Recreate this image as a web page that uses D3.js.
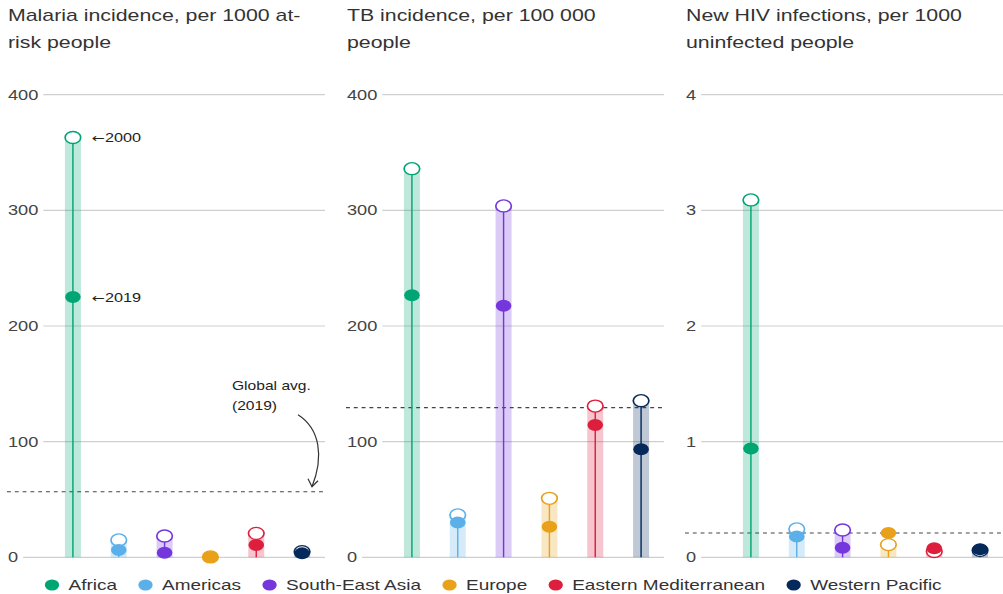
<!DOCTYPE html>
<html>
<head>
<meta charset="utf-8">
<script src="https://cdn.jsdelivr.net/npm/d3@7"></script>
<style>
  html, body { margin: 0; padding: 0; background: #fff; }
  svg { display: block; font-family: "Liberation Sans", Arial, sans-serif; }
</style>
</head>
<body>
<svg id="chart" width="1003" height="594"></svg>
<script>
// ---------------- DATA ----------------
const regions = ["Africa", "Americas", "South-East Asia", "Europe", "Eastern Mediterranean", "Western Pacific"];
const regionColors = ["#00a574", "#5cb0e9", "#7536dc", "#e9a11a", "#dd1f3d", "#06295b"];

const panelTitles = [
  ["Malaria incidence, per 1000 at-", "risk people"],
  ["TB incidence, per 100 000", "people"],
  ["New HIV infections, per 1000", "uninfected people"]
];

const malaria2000 = [363, 15, 18.4, 0.3, 20.7, 4.9];
const malaria2019 = [225, 6.3, 4, 0.2, 10.6, 3.4];
const tb2000 = [336, 36.6, 303.8, 51, 130.8, 135.4];
const tb2019 = [226.5, 30, 217.6, 26.5, 114.4, 93.4];
const hiv2000 = [3.09, 0.245, 0.236, 0.11, 0.05, 0.06];
const hiv2019 = [0.94, 0.18, 0.083, 0.21, 0.078, 0.07];

const globalAvg2019 = [56.7, 129.4, 0.21];
const yMax = [400, 400, 4];
const malariaTicks = [0, 100, 200, 300, 400];
const tbTicks = [0, 100, 200, 300, 400];
const hivTicks = [0, 1, 2, 3, 4];

const panels = [
  { title: panelTitles[0], v2000: malaria2000, v2019: malaria2019, avg: globalAvg2019[0], max: yMax[0], ticks: malariaTicks },
  { title: panelTitles[1], v2000: tb2000, v2019: tb2019, avg: globalAvg2019[1], max: yMax[1], ticks: tbTicks },
  { title: panelTitles[2], v2000: hiv2000, v2019: hiv2019, avg: globalAvg2019[2], max: yMax[2], ticks: hivTicks }
];

// ---------------- LAYOUT ----------------
const W = 1003, H = 594;
const SX = 1.3;                 // horizontal stretch of the whole drawing
const panelLeft = [7, 346, 685]; // real px
const panelW = 318;
const yTop = 94.7, yBottom = 557.3;

const svg = d3.select("#chart");
const g = svg.append("g").attr("transform", `scale(${SX},1)`);
const overlay = svg.append("g"); // unscaled overlay

const color = d3.scaleOrdinal().domain(regions).range(regionColors);

panels.forEach((p, pi) => {
  const L = panelLeft[pi];
  const x = d3.scaleBand().domain(regions).range([(L + 43) / SX, (L + panelW) / SX]);
  const y = d3.scaleLinear().domain([0, p.max]).range([yBottom, yTop]);
  const right = (L + panelW) / SX;
  const pg = g.append("g");
  const gridG = pg.append("g");

  // title
  p.title.forEach((line, i) => {
    pg.append("text")
      .attr("x", (L + 1) / SX).attr("y", 21 + i * 27)
      .attr("fill", "#333").attr("font-size", 16.4)
      .text(line);
  });

  // ticks + gridlines
  p.ticks.forEach(v => {
    const lab = pg.append("text")
      .attr("x", (L + 1) / SX).attr("y", y(v)).attr("dy", "0.36em")
      .attr("fill", "#444").attr("font-size", 14)
      .text(d3.format("d")(v));
    const tw = lab.node().getComputedTextLength();
    gridG.append("line")
      .attr("x1", (L + 1) / SX + tw + 5 / SX).attr("x2", right)
      .attr("y1", y(v)).attr("y2", y(v))
      .attr("stroke", "#cfcfcf").attr("stroke-width", 1.2);
  });

  const bw = 16 / SX;
  const cx = r => x(r) + x.bandwidth() / 2;

  // bars
  pg.selectAll("rect.bar").data(regions).join("rect")
    .attr("class", "bar")
    .attr("x", r => cx(r) - bw / 2)
    .attr("width", bw)
    .attr("y", (r, i) => y(p.v2000[i]))
    .attr("height", (r, i) => y(0) - y(p.v2000[i]))
    .attr("fill", r => color(r)).attr("fill-opacity", 0.26);

  // global average dashed line
  pg.append("line")
    .attr("x1", L / SX).attr("x2", right)
    .attr("y1", y(p.avg)).attr("y2", y(p.avg))
    .attr("stroke", "#444").attr("stroke-width", 1.1)
    .attr("stroke-dasharray", "3,3");

  // stems
  pg.selectAll("line.stem").data(regions).join("line")
    .attr("class", "stem")
    .attr("x1", cx).attr("x2", cx)
    .attr("y1", y(0)).attr("y2", (r, i) => y(p.v2000[i]))
    .attr("stroke", r => color(r)).attr("stroke-width", 1.1);

  // 2000 open circles
  pg.selectAll("circle.c2000").data(regions).join("circle")
    .attr("class", "c2000")
    .attr("cx", cx).attr("cy", (r, i) => y(p.v2000[i]))
    .attr("r", 6)
    .attr("fill", "#fff").attr("stroke", r => color(r)).attr("stroke-width", 1.3);

  // 2019 filled circles
  pg.selectAll("circle.c2019").data(regions).join("circle")
    .attr("class", "c2019")
    .attr("cx", cx).attr("cy", (r, i) => y(p.v2019[i]))
    .attr("r", 6)
    .attr("fill", r => color(r));

  if (pi === 0) {
    const ax = cx(regions[0]) + 19 / SX;
    [["2000", p.v2000[0]], ["2019", p.v2019[0]]].forEach(([lbl, v]) => {
      const t = pg.append("text").attr("x", ax).attr("y", y(v)).attr("dy", "0.36em")
        .attr("font-size", 12.5).attr("fill", "#222");
      t.append("tspan").attr("font-family", "DejaVu Sans").attr("font-size", 12).text("\u2190");
      t.append("tspan").text(lbl);
    });

    const ya = y(p.avg);
    pg.append("text").attr("x", (L + 225) / SX).attr("y", ya - 106).attr("dy", "0.36em")
      .attr("font-size", 12).attr("fill", "#222").text("Global avg.");
    pg.append("text").attr("x", (L + 225) / SX).attr("y", ya - 86).attr("dy", "0.36em")
      .attr("font-size", 12).attr("fill", "#222").text("(2019)");

    // curved arrow (unscaled coordinates)
    const sx0 = L + 291, sy0 = ya - 77, ex = L + 305, ey = ya - 5;
    overlay.append("path")
      .attr("d", `M${sx0},${sy0} C${sx0 + 22},${sy0 + 14} ${ex + 12},${ey - 30} ${ex},${ey}`)
      .attr("fill", "none").attr("stroke", "#333").attr("stroke-width", 1.2);
    overlay.append("path")
      .attr("d", `M${ex - 4},${ey - 8} L${ex},${ey} L${ex + 6},${ey - 6}`)
      .attr("fill", "none").attr("stroke", "#333").attr("stroke-width", 1.2);
  }
});

// ---------------- LEGEND ----------------
const lg = g.append("g");
let lx = 45 / SX;
const ly = 585;
regions.forEach(r => {
  lg.append("circle").attr("cx", lx + 7 / SX).attr("cy", ly).attr("r", 5.5).attr("fill", color(r));
  const tx = lg.append("text").attr("x", lx + 23.5 / SX).attr("y", ly).attr("dy", "0.36em")
    .attr("font-size", 14.6).attr("fill", "#333").text(r);
  lx = lx + 23.5 / SX + tx.node().getComputedTextLength() + 21.5 / SX;
});
</script>
</body>
</html>
